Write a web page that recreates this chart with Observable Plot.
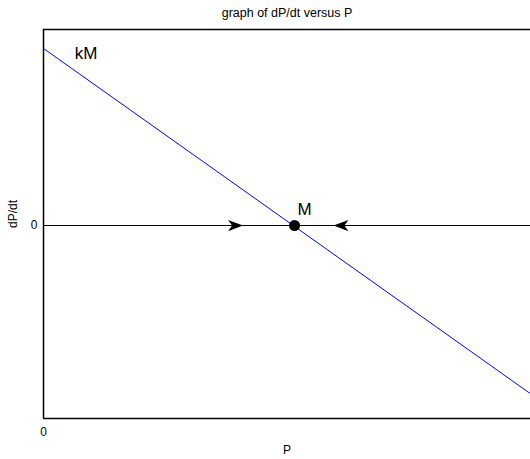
<!DOCTYPE html>
<html>
<head>
<meta charset="utf-8">
<script src="https://cdn.jsdelivr.net/npm/d3@7"></script>
<script src="https://cdn.jsdelivr.net/npm/@observablehq/plot@0.6"></script>
<style>
  body { margin: 0; background: #fff; }
  svg { font-family: "Liberation Sans", Arial, sans-serif; }
</style>
</head>
<body>
<div id="chart"></div>
<script>
// P values and dP/dt values of the straight line dP/dt = kM - kP (k = 1, M = 1)
const lineP = [0, 1.94];
const lineDPdt = [1, -0.95];
// equilibrium point
const eqP = [1];
const eqDPdt = [0];
// arrowheads along the P axis (position, direction)
const arrowP = [0.765, 1.185];
const arrowRotate = [0, 180];
// labels
const labelText = ["kM", "M"];
const labelP = [0.17, 1.04];
const labelY = [0.97, 0.09];
const titleText = "graph of dP/dt versus P";
const xLabel = "P";
const yLabel = "dP/dt";
const xTicks = [0];
const yTicks = [0];
const xDomain = [0, 1.94];
const yDomain = [-1.09, 1.107];

const lineData = lineP.map((p, i) => ({P: p, v: lineDPdt[i]}));
const arrows = arrowP.map((p, i) => ({P: p, rot: arrowRotate[i]}));
const labels = labelText.map((t, i) => ({t, P: labelP[i], v: labelY[i]}));

// notched arrowhead symbol pointing right
const arrowSymbol = {
  draw(ctx, size) {
    const r = Math.sqrt(size / Math.PI);
    ctx.moveTo(r, 0);
    ctx.lineTo(-r, -0.75 * r);
    ctx.lineTo(-0.45 * r, 0);
    ctx.lineTo(-r, 0.75 * r);
    ctx.closePath();
  }
};

const chart = Plot.plot({
  width: 530,
  height: 459,
  marginLeft: 43,
  marginRight: 0,
  marginTop: 29,
  marginBottom: 41,
  style: {fontFamily: "'Liberation Sans', Arial, sans-serif", fontSize: "12px", color: "#000", background: "#fff"},
  x: {domain: xDomain, ticks: xTicks, tickSize: 0, tickPadding: 9, label: null, tickFormat: d => String(d)},
  y: {domain: yDomain, ticks: yTicks, tickSize: 0, tickPadding: 6, label: null, tickFormat: d => String(d)},
  marks: [
    Plot.ruleY([yDomain[1]], {stroke: "#000", strokeWidth: 1.5}),
    Plot.ruleY([yDomain[0]], {stroke: "#000", strokeWidth: 1.5}),
    Plot.ruleX([xDomain[0]], {stroke: "#000", strokeWidth: 1.5}),
    Plot.ruleY(eqDPdt, {stroke: "#000", strokeWidth: 1.2}),
    Plot.line(lineData, {x: "P", y: "v", stroke: "#0000ff", strokeWidth: 1}),
    Plot.dot(arrows, {x: "P", y: () => 0, symbol: arrowSymbol, r: 7.5, fill: "#000", stroke: "none", rotate: "rot"}),
    Plot.dot(eqP.map((p, i) => ({P: p, v: eqDPdt[i]})), {x: "P", y: "v", r: 5.5, fill: "#000"}),
    Plot.text(labels, {x: "P", y: "v", text: "t", fontSize: 17, fill: "#000"}),
    Plot.text([titleText], {frameAnchor: "top", dy: -21, fontSize: 12.5, fill: "#000"}),
    Plot.text([xLabel], {frameAnchor: "bottom", dy: 35, fontSize: 12, fill: "#000"}),
    Plot.text([yLabel], {frameAnchor: "left", dx: -30, dy: 4, rotate: -90, fontSize: 12, fill: "#000"})
  ]
});
document.getElementById("chart").appendChild(chart);
</script>
</body>
</html>
